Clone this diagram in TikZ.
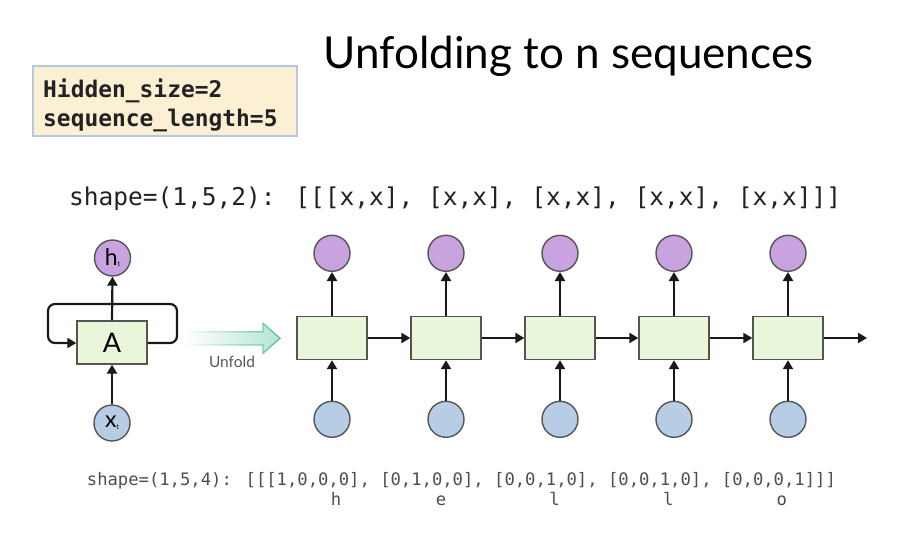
\documentclass[tikz,border=0pt]{standalone}
\usepackage{fontspec}
\setmainfont{Lato}
\newfontfamily\codefont{DejaVu Sans Mono}
\usetikzlibrary{arrows.meta,fadings}
\definecolor{cellgreen}{HTML}{E9F6DA}
\definecolor{hpurple}{HTML}{C9A2E0}
\definecolor{xblue}{HTML}{B7CDE6}
\definecolor{edgegray}{HTML}{555555}
\definecolor{noteyellow}{HTML}{FCF0D4}
\definecolor{noteborder}{HTML}{B8C8DC}
\definecolor{tealfill}{HTML}{B5E4D6}
\definecolor{tealline}{HTML}{5FBFA5}
\definecolor{txt}{HTML}{222222}
\tikzfading[name=fadeleft, left color=transparent!100, right color=transparent!0]
\begin{document}
\begin{tikzpicture}[x=1pt,y=-1pt,
  cell/.style={draw=edgegray, fill=cellgreen, line width=1.4pt, minimum width=70pt, minimum height=43pt, inner sep=0pt},
  hnode/.style={circle, draw=edgegray, fill=hpurple, line width=1.4pt, minimum size=36pt, inner sep=0pt},
  xnode/.style={circle, draw=edgegray, fill=xblue, line width=1.4pt, minimum size=36pt, inner sep=0pt},
  conn/.style={line width=2.2pt, draw=black!90, -{Triangle[length=9pt,width=10pt]}},
  code/.style={font=\codefont\fontsize{24.5}{28}\selectfont, text=txt, inner sep=0pt, anchor=base west},
  smallcode/.style={font=\codefont\fontsize{17.2}{20}\selectfont, text=txt!80!white, inner sep=0pt, anchor=base west},
  notetext/.style={font=\codefont\bfseries\fontsize{22.9}{26}\selectfont, text=txt, inner sep=0pt, anchor=base west},
  letter/.style={font=\codefont\fontsize{17.2}{20}\selectfont, text=txt!80!white, inner sep=0pt, anchor=base}
]
\useasboundingbox (0,0) rectangle (920,538);
\fill[white] (0,0) rectangle (920,538);

% title
\node[font=\fontsize{44}{50}\selectfont, text=black, inner sep=0pt, anchor=base] (title) at (568.5,68) {Unfolding to n sequences};

% note box
\node[draw=noteborder, fill=noteyellow, line width=1.5pt, minimum width=264pt, minimum height=70pt, inner sep=0pt] (note) at (165,101) {};
\node[notetext] (note1) at (43,97.7) {Hidden\_size=2};
\node[notetext] (note2) at (43,126.7) {sequence\_length=5};

% top shape line
\node[code] (shape2) at (69,205) {shape=(1,5,2): [[[x,x], [x,x], [x,x], [x,x], [x,x]]]};

% folded RNN
\node[cell] (A) at (112,342.5) {\fontsize{27}{27}\selectfont A};
\node[hnode] (hf) at (112.5,258) {\fontsize{23}{23}\selectfont h\raisebox{-1pt}{\fontsize{7}{7}\selectfont t}};
\node[xnode] (xf) at (112,423) {\fontsize{23}{23}\selectfont x\raisebox{-2pt}{\fontsize{7}{7}\selectfont t}};
\draw[conn] (A.north) -- (hf.south);
\draw[conn] (xf.north) -- (A.south);
\coordinate (l1) at (177,343);
\coordinate (l2) at (177,304);
\coordinate (l3) at (48,304);
\coordinate (l4) at (48,343);
\draw[conn, rounded corners=7pt] (A.east |- l1) -- (l1) -- (l2) -- (l3) -- (l4) -- (A.west |- l4);

% unfold arrow
\coordinate (u0) at (186,338.3);
\coordinate (u1) at (280,338.3);
\fill[tealfill, path fading=fadeleft] (186,331.7) -- (263,331.7) -- (263,323.3) -- (u1) -- (263,353.3) -- (263,345) -- (186,345) -- cycle;
\draw[tealline, line width=1.4pt, path fading=fadeleft, line join=miter] (186,331.7) -- (263,331.7) -- (263,323.3) -- (u1) -- (263,353.3) -- (263,345) -- (186,345);
\node[font=\fontsize{15.5}{15.5}\selectfont, text=black!65, inner sep=0pt] (unfold) at (232,362) {Unfold};

% unfolded chain
\foreach \i/\x in {1/332,2/446,3/560,4/674,5/788}{
  \node[cell] (c\i) at (\x,338) {};
  \node[hnode] (h\i) at (\x,253.3) {};
  \node[xnode] (x\i) at (\x,419.3) {};
  \draw[conn] (c\i.north) -- (h\i.south);
  \draw[conn] (x\i.north) -- (c\i.south);
}
\draw[conn] (c1.east) -- (c2.west);
\draw[conn] (c2.east) -- (c3.west);
\draw[conn] (c3.east) -- (c4.west);
\draw[conn] (c4.east) -- (c5.west);
\coordinate (cend) at (867,338);
\draw[conn] (c5.east) -- (cend);

% bottom shape line
\node[smallcode] (shape4) at (86.7,485) {shape=(1,5,4): [[[1,0,0,0], [0,1,0,0], [0,0,1,0], [0,0,1,0], [0,0,0,1]]]};
\node[letter] (lh) at (336,505) {h};
\node[letter] (le) at (441,505) {e};
\node[letter] (ll1) at (554.5,505) {l};
\node[letter] (ll2) at (668.3,505) {l};
\node[letter] (lo) at (781.7,505) {o};
\end{tikzpicture}
\end{document}
